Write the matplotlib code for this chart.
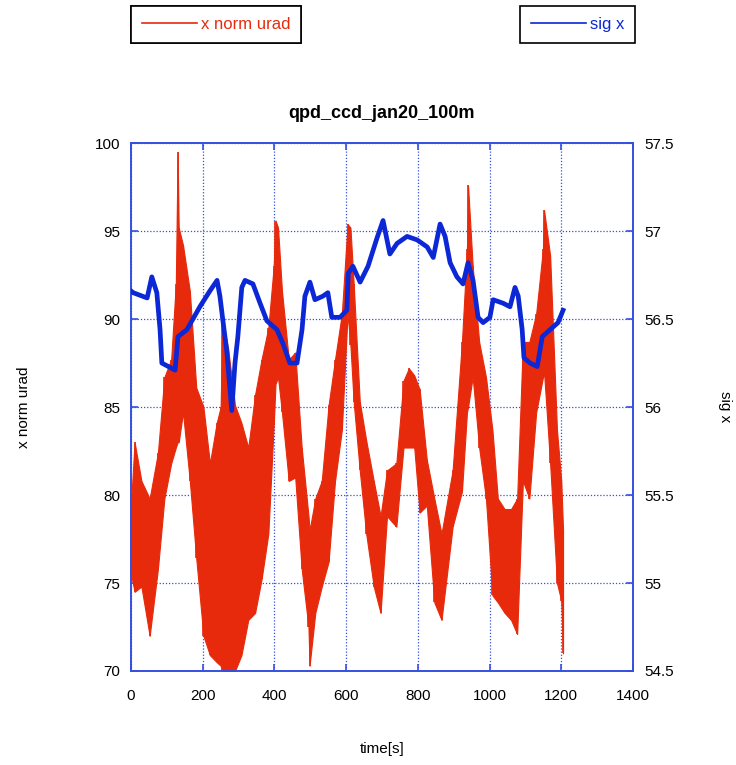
import numpy as np
import matplotlib
matplotlib.use("Agg")
import matplotlib.pyplot as plt
from matplotlib.ticker import FuncFormatter

plt.rcParams['font.family'] = ['Liberation Sans', 'DejaVu Sans']

# red trace: envelope (min / max) of x norm urad
t_red = [0, 10, 29, 52, 75, 93, 112, 125, 130, 133, 145, 164, 182, 202, 220,
         239, 250, 255, 271, 290, 308, 327, 346, 364, 383, 398, 403, 410, 421,
         440, 458, 476, 495, 498, 514, 532, 551, 569, 588, 604, 612, 621, 638,
         656, 677, 696, 714, 740, 760, 775, 790, 805, 825, 846, 866, 897, 923,
         937, 940, 953, 971, 990, 1008, 1023, 1042, 1060, 1077, 1093, 1111,
         1130, 1149, 1152, 1169, 1188, 1200, 1205]
lo_red = [75.5, 74.5, 74.8, 72.0, 75.8, 79.8, 81.8, 82.7, 83.0, 83.0, 84.7,
          80.8, 76.4, 72.0, 70.9, 70.5, 70.3, 70.0, 70.0, 70.0, 70.9, 72.9,
          73.3, 75.2, 77.8, 84.0, 86.3, 86.7, 84.7, 80.8, 81.0, 75.8, 72.5,
          70.3, 73.3, 74.8, 76.2, 80.8, 83.7, 90.3, 88.5, 85.3, 81.4, 77.8,
          74.8, 73.3, 78.8, 78.2, 82.7, 82.7, 82.7, 79.0, 79.4, 73.9, 72.9,
          78.2, 80.2, 84.7, 85.0, 86.7, 82.7, 79.8, 74.3, 73.9, 73.3, 72.9,
          72.1, 80.8, 79.8, 84.7, 86.7, 87.0, 81.8, 75.0, 74.0, 71.0]
hi_red = [79.5, 83.0, 80.8, 79.8, 82.4, 86.7, 87.7, 92.0, 99.5, 95.2, 94.2,
          91.6, 86.1, 85.0, 81.8, 84.1, 85.0, 90.0, 88.3, 85.1, 84.1, 82.7,
          85.7, 87.7, 89.5, 93.0, 95.6, 95.2, 91.6, 87.7, 88.1, 82.7, 78.8,
          78.0, 79.8, 80.8, 85.1, 87.7, 90.3, 95.4, 95.2, 92.0, 85.3, 83.1,
          80.8, 78.8, 81.4, 81.8, 86.5, 87.2, 86.8, 86.0, 82.0, 79.8, 77.8,
          81.4, 88.7, 94.0, 97.6, 93.0, 88.7, 86.7, 83.7, 79.8, 79.2, 79.2,
          79.8, 88.7, 88.7, 90.3, 94.0, 96.2, 93.6, 83.7, 80.8, 78.0]

# blue trace: sig x (right axis)
t_sig = [0, 6, 45, 58, 72, 81, 86, 123, 131, 156, 192, 220, 240, 248, 257,
         267, 281, 290, 298, 309, 318, 340, 360, 379, 407, 424, 443, 463, 477,
         485, 499, 513, 535, 549, 560, 583, 602, 606, 619, 639, 661, 686, 703,
         714, 722, 742, 770, 798, 826, 843, 862, 876, 890, 909, 926, 940, 954,
         968, 982, 1001, 1010, 1038, 1057, 1071, 1080, 1091, 1096, 1113, 1133,
         1147, 1169, 1191, 1205]
sig = [56.66, 56.65, 56.62, 56.74, 56.65, 56.44, 56.25, 56.21, 56.40, 56.44,
       56.57, 56.66, 56.72, 56.63, 56.48, 56.32, 55.98, 56.25, 56.40, 56.68,
       56.72, 56.70, 56.59, 56.49, 56.44, 56.36, 56.25, 56.25, 56.44, 56.63,
       56.71, 56.61, 56.63, 56.65, 56.51, 56.51, 56.55, 56.76, 56.80, 56.71,
       56.80, 56.96, 57.06, 56.95, 56.87, 56.93, 56.97, 56.95, 56.91, 56.85,
       57.04, 56.97, 56.82, 56.74, 56.70, 56.82, 56.72, 56.51, 56.48, 56.51,
       56.61, 56.59, 56.57, 56.68, 56.63, 56.44, 56.28, 56.25, 56.23, 56.40,
       56.44, 56.48, 56.55]

red = '#e82a0c'
blue = '#0b27d6'
frame = '#3550e0'

fig = plt.figure(figsize=(7.36, 7.65), dpi=100)
ax = fig.add_axes([0.178, 0.1229, 0.682, 0.690])
ax2 = ax.twinx()

ax.fill_between(t_red, lo_red, hi_red, color=red, lw=0.8, zorder=2)
ax.vlines(t_red, lo_red, hi_red, color=red, lw=1.2, zorder=2)
l1, = ax.plot([], [], color=red, lw=1.2, label='x norm urad')
l2, = ax2.plot(t_sig, sig, color=blue, lw=3.4, label='sig x', zorder=3)

ax.set_xlim(0, 1400)
ax.set_ylim(70, 100)
ax2.set_ylim(54.5, 57.5)
ax.set_xticks(np.arange(0, 1401, 200))
ax.set_yticks(np.arange(70, 101, 5))
ax2.set_yticks(np.arange(54.5, 57.51, 0.5))
ax2.yaxis.set_major_formatter(FuncFormatter(lambda v, p: '%g' % v))

ax.grid(True, color=frame, linestyle=(0, (1, 1.5)), linewidth=0.9)
ax.set_axisbelow(True)
for a in (ax, ax2):
    for s in a.spines.values():
        s.set_color(frame)
        s.set_linewidth(1.2)
    a.tick_params(direction='in', color=frame, length=5, width=1.2,
                  labelsize=11, labelcolor='black', pad=8)
ax.tick_params(axis='x', top=True, pad=13)

ax.set_xlabel('time[s]', fontsize=11, labelpad=28)
ax.set_ylabel('x norm urad', fontsize=11, labelpad=46)
ax2.set_ylabel('sig x', fontsize=11, rotation=270, labelpad=42)
ax.set_title('qpd_ccd_jan20_100m', fontsize=13, fontweight='bold', pad=18)

leg1 = fig.legend(handles=[l1], loc='upper left', bbox_to_anchor=(0.178, 0.992),
                  fontsize=12, handlelength=3.3, handletextpad=0.25,
                  borderpad=0.65, fancybox=False, edgecolor='black',
                  framealpha=1, labelcolor=red, borderaxespad=0)
leg1.get_frame().set_linewidth(1.2)
fig.add_artist(leg1)
leg2 = fig.legend(handles=[l2], loc='upper right', bbox_to_anchor=(0.863, 0.992),
                  fontsize=12, handlelength=3.3, handletextpad=0.25,
                  borderpad=0.65, fancybox=False, edgecolor='black',
                  framealpha=1, labelcolor=blue, borderaxespad=0)
leg2.get_frame().set_linewidth(1.2)
for h in leg2.legend_handles:
    h.set_linewidth(1.2)

fig.savefig('out.png', dpi=100)
